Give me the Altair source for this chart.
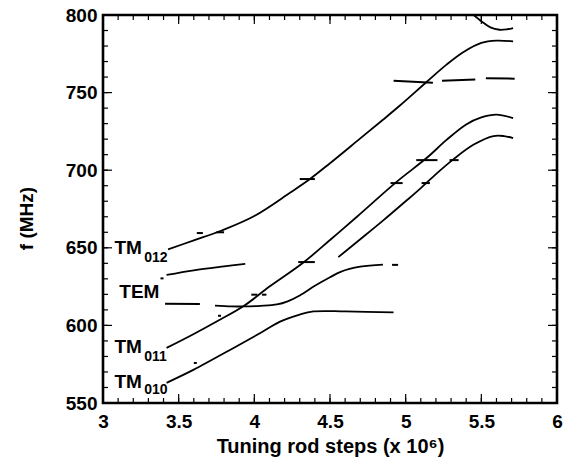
import altair as alt
import pandas as pd

FONT = "Liberation Sans"
W, H = 454, 388

# ---- mode curves ----
A_x = [3.43, 3.6, 3.78, 4.0, 4.236, 4.37, 4.5, 4.7, 4.85, 4.96, 5.14, 5.27, 5.38, 5.5, 5.6, 5.71]
A_y = [649, 654.8, 661, 670.5, 685.5, 694.5, 704.5, 720.5, 732.5, 741.5, 757, 768, 776, 782, 783.5, 783]
B_x = [5.43, 5.5, 5.56, 5.62, 5.67, 5.71]
B_y = [801.5, 796, 792, 790.5, 790.8, 791.6]
C_x = [3.42, 3.6, 3.76, 3.93, 4.1, 4.32, 4.5, 4.68, 4.94, 5.14, 5.27, 5.4, 5.5, 5.6, 5.71]
C_y = [585.5, 594.5, 603, 612.5, 625, 640.2, 655, 670.2, 692.5, 708, 719.5, 729.5, 734, 735.8, 733.6]
D_x = [4.555, 4.7, 4.85, 5.0, 5.1, 5.2, 5.315, 5.45, 5.58, 5.65, 5.71]
D_y = [644, 655.5, 667.5, 680, 688.5, 697.5, 707, 716.5, 722, 722, 720.7]
E_x = [3.74, 3.85, 3.93, 4.04, 4.15, 4.22, 4.3, 4.4, 4.5, 4.57, 4.7, 4.85]
E_y = [612.8, 612.3, 612.2, 612.6, 613.5, 615.5, 619.3, 625.5, 631, 634.5, 637.8, 639.2]
F_x = [3.42, 3.6, 3.86, 4.04, 4.17, 4.3, 4.39, 4.6, 4.92]
F_y = [563, 571.5, 585.3, 595.1, 602.4, 607, 609, 609, 608.4]
G_x = [3.42, 3.6, 3.8, 3.94]
G_y = [632.5, 635.5, 638, 639.6]

# ---- short straight pieces (dashes and marker ticks) ----
seg_x1 = [3.41, 4.92, 5.24, 5.53, 3.62, 3.75, 4.30, 3.98, 4.05, 4.29, 4.90, 5.07, 5.105, 5.29, 3.76, 3.60, 3.38, 4.91]
seg_x2 = [3.64, 5.18, 5.46, 5.72, 3.66, 3.80, 4.40, 4.02, 4.08, 4.40, 4.98, 5.21, 5.16, 5.35, 3.78, 3.62, 3.40, 4.95]
seg_y1 = [614, 757.7, 757.7, 759.2, 659.5, 660, 694.3, 619.8, 619.8, 640.8, 691.7, 706.5, 691.7, 706.5, 606.2, 575.8, 630.3, 639]
seg_y2 = [613.8, 756.3, 758.4, 759.0, 659.5, 660, 694.3, 619.8, 619.8, 640.8, 691.7, 706.5, 691.7, 706.5, 606.2, 575.8, 630.3, 639]

# ---- mode labels ----
lab_text = ["TM", "TEM", "TM", "TM"]
lab_x = [3.076, 3.108, 3.076, 3.076]
lab_y = [650, 621.3, 585.8, 563.5]
sub_text = ["012", "011", "010"]
sub_x = [3.272, 3.272, 3.272]
sub_y = [643.5, 579.8, 558.3]

# ---- axes ----
x_major = [3, 3.5, 4, 4.5, 5, 5.5, 6]
y_major = [550, 600, 650, 700, 750, 800]
x_minor = [round(3 + 0.1 * i, 1) for i in range(31)]
y_minor = [550 + 10 * i for i in range(26)]

rows = []
for name, xs, ys in [("A", A_x, A_y), ("B", B_x, B_y), ("C", C_x, C_y), ("D", D_x, D_y),
                     ("E", E_x, E_y), ("F", F_x, F_y), ("G", G_x, G_y)]:
    for i, (a, b) in enumerate(zip(xs, ys)):
        rows.append({"curve": name, "x": a, "y": b, "o": i})
curves = pd.DataFrame(rows)
segs = pd.DataFrame({"x": seg_x1, "x2": seg_x2, "y": seg_y1, "y2": seg_y2})
labs = pd.DataFrame({"t": lab_text, "x": lab_x, "y": lab_y})
subs = pd.DataFrame({"t": sub_text, "x": sub_x, "y": sub_y})

xs_ = alt.Scale(domain=[3, 6], nice=False, zero=False)
ys_ = alt.Scale(domain=[550, 800], nice=False, zero=False)

xaxis = alt.Axis(values=x_major, format=".1~f", title="Tuning rod steps (x 10⁶)",
                 ticks=False, domain=False, grid=False, labelFlush=False,
                 labelPadding=9, labelFontSize=19, labelFont=FONT, labelFontWeight="bold",
                 labelColor="black", titleFont=FONT, titleFontSize=20, titleFontWeight="bold",
                 titleColor="black", titleY=43, titleBaseline="middle")
yaxis = alt.Axis(values=y_major, format="d", title="f (MHz)",
                 ticks=False, domain=False, grid=False, labelFlush=False,
                 labelPadding=6, labelFontSize=19, labelFont=FONT, labelFontWeight="bold",
                 labelColor="black", titleFont=FONT, titleFontSize=19, titleFontWeight="bold",
                 titleColor="black", titleX=-77, titleY=203, titleAngle=270,
                 titleBaseline="middle", titleAlign="center")

X = lambda f="x": alt.X(f + ":Q", scale=xs_, axis=xaxis)
Y = lambda f="y": alt.Y(f + ":Q", scale=ys_, axis=yaxis)

lines = alt.Chart(curves).mark_line(color="black", strokeWidth=1.8, interpolate="catmull-rom", clip=True).encode(
    x=X(), y=Y(), detail="curve:N", order="o:Q")

seg_layer = alt.Chart(segs).mark_rule(color="black", strokeWidth=2).encode(
    x=X(), x2="x2:Q", y=Y(), y2="y2:Q")

labels = alt.Chart(labs).mark_text(align="left", baseline="middle", font=FONT, fontSize=19,
                                   fontWeight="bold", color="black").encode(x=X(), y=Y(), text="t:N")
sublabels = alt.Chart(subs).mark_text(align="left", baseline="middle", font=FONT, fontSize=14,
                                      fontWeight="bold", color="black").encode(x=X(), y=Y(), text="t:N")

def xticks(vals, length):
    d = pd.DataFrame({"v": vals})
    top = alt.Chart(d).mark_rule(color="black", strokeWidth=1.2).encode(
        x=X("v"), y=alt.value(0), y2=alt.value(length))
    bot = alt.Chart(d).mark_rule(color="black", strokeWidth=1.2).encode(
        x=X("v"), y=alt.value(H), y2=alt.value(H - length))
    return [top, bot]

def yticks(vals, length):
    d = pd.DataFrame({"v": vals})
    left = alt.Chart(d).mark_rule(color="black", strokeWidth=1.2).encode(
        y=Y("v"), x=alt.value(0), x2=alt.value(length))
    right = alt.Chart(d).mark_rule(color="black", strokeWidth=1.2).encode(
        y=Y("v"), x=alt.value(W), x2=alt.value(W - length))
    return [left, right]

layers = [lines, seg_layer, labels, sublabels] + xticks(x_minor, 5) + xticks(x_major, 9) \
    + yticks(y_minor, 5) + yticks(y_major, 9)

chart = alt.layer(*layers).properties(
    width=W, height=H,
    autosize=alt.AutoSizeParams(type="none"),
    padding={"left": 103, "top": 15, "right": 7, "bottom": 57},
    background="white",
).configure_view(stroke="black", strokeWidth=2.6)

chart.save("out.html", embed_options={"renderer": "svg", "actions": False})
